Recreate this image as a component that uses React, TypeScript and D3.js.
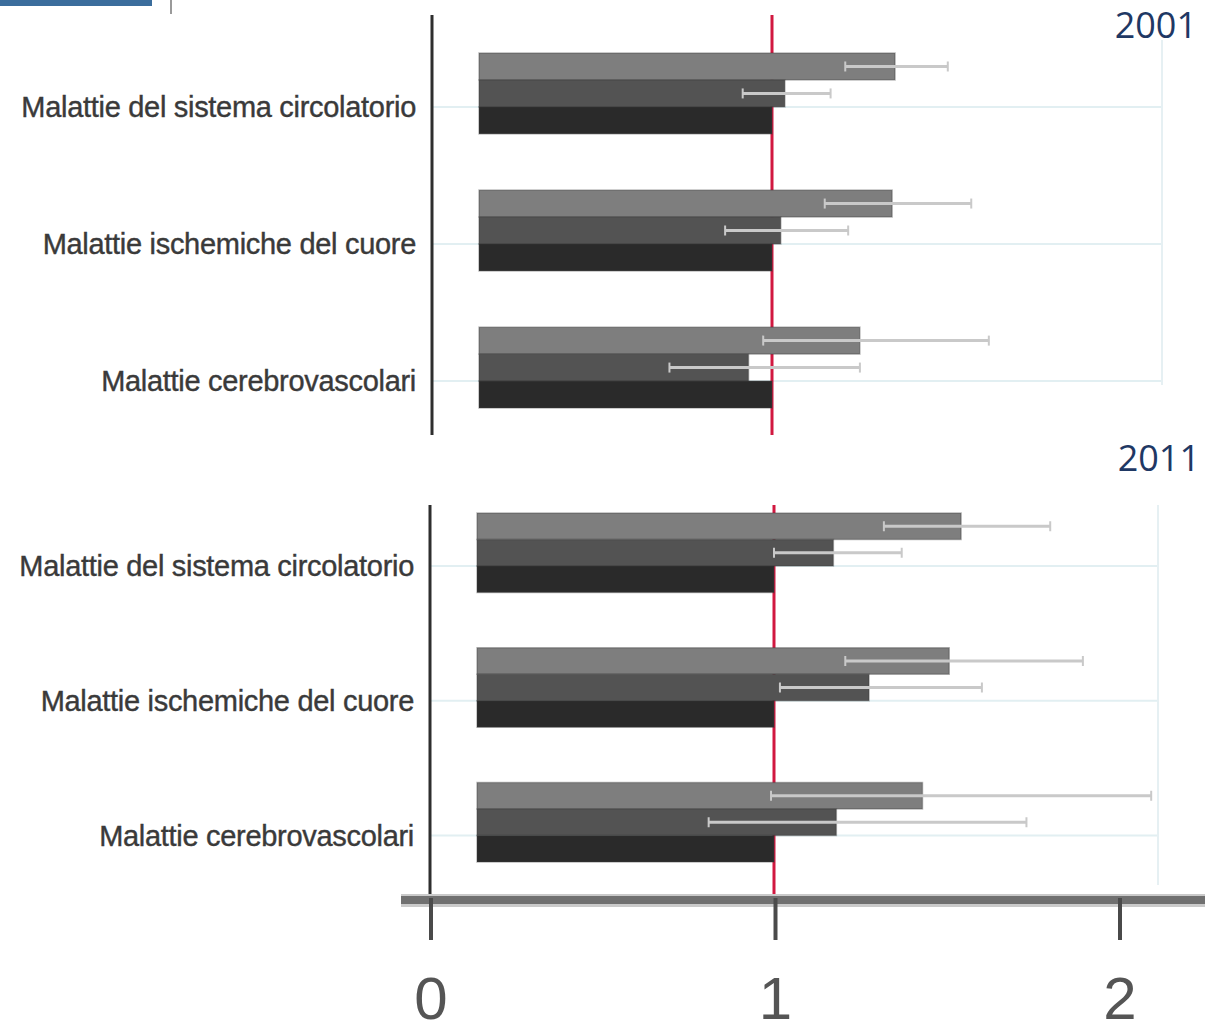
import React from "react";
import * as d3 from "d3";

const categories = [
  "Malattie del sistema circolatorio",
  "Malattie ischemiche del cuore",
  "Malattie cerebrovascolari",
];
const seriesNames = ["serieA", "serieB", "riferimento"];
const years = ["2001", "2011"];

// values per category: [serieA, serieB, riferimento]
const values2001 = [
  [1.42, 1.044, 1.0],
  [1.41, 1.03, 1.0],
  [1.3, 0.92, 1.0],
];
const lower2001 = [
  [1.25, 0.9, null],
  [1.18, 0.84, null],
  [0.97, 0.65, null],
];
const upper2001 = [
  [1.6, 1.2, null],
  [1.68, 1.26, null],
  [1.74, 1.3, null],
];
const values2011 = [
  [1.63, 1.2, 1.0],
  [1.59, 1.32, 1.0],
  [1.5, 1.21, 1.0],
];
const lower2011 = [
  [1.37, 1.0, null],
  [1.24, 1.02, null],
  [0.99, 0.78, null],
];
const upper2011 = [
  [1.93, 1.43, null],
  [2.04, 1.7, null],
  [2.27, 1.85, null],
];
const axisTicks = [0, 1, 2];

const barColors = ["#7e7e7e", "#535353", "#2a2a2a"];

type PanelProps = {
  x0: number;
  x1: number;
  yTop: number;
  yBottom: number;
  axisX: number;
  lineTop: number;
  lineBottom: number;
  gridRight: number;
  gridTop: number;
  gridBottom: number;
  labelX: number;
  values: number[][];
  lower: (number | null)[][];
  upper: (number | null)[][];
};

function Panel(p: PanelProps) {
  const x = d3.scaleLinear().domain([0, 1]).range([p.x0, p.x1]);
  const y = d3
    .scaleBand<string>()
    .domain(categories)
    .range([p.yTop, p.yBottom])
    .paddingInner(0.41)
    .paddingOuter(0);
  const inner = d3
    .scaleBand<string>()
    .domain(seriesNames)
    .range([0, y.bandwidth()])
    .padding(0);
  return (
    <g>
      {categories.map((c) => {
        const gy = (y(c) as number) + (inner("riferimento") as number);
        return (
          <line
            key={"g" + c}
            x1={p.axisX}
            x2={p.gridRight}
            y1={gy}
            y2={gy}
            stroke="#e2eff2"
            strokeWidth={2}
          />
        );
      })}
      <line
        x1={p.gridRight}
        x2={p.gridRight}
        y1={p.gridTop}
        y2={p.gridBottom}
        stroke="#e6f0f3"
        strokeWidth={2}
      />
      <line
        x1={x(1)}
        x2={x(1)}
        y1={p.lineTop}
        y2={p.lineBottom}
        stroke="#d11840"
        strokeWidth={3}
      />
      <line
        x1={p.axisX}
        x2={p.axisX}
        y1={p.lineTop}
        y2={p.lineBottom}
        stroke="#2e2e2e"
        strokeWidth={3}
      />
      {categories.map((c, ci) => (
        <g key={c}>
          {seriesNames.map((s, si) => {
            const by = (y(c) as number) + (inner(s) as number);
            const v = p.values[ci][si];
            return (
              <rect
                key={s}
                x={x(0)}
                y={by}
                width={x(v) - x(0)}
                height={inner.bandwidth()}
                fill={barColors[si]}
                stroke="#3a3a3a"
                strokeOpacity={0.35}
                strokeWidth={1.5}
              />
            );
          })}
          {seriesNames.map((s, si) => {
            const lo = p.lower[ci][si];
            const hi = p.upper[ci][si];
            if (lo == null || hi == null) return null;
            const cy = (y(c) as number) + (inner(s) as number) + inner.bandwidth() / 2;
            return (
              <g key={"e" + s} stroke="#c9c9c9">
                <line x1={x(lo)} x2={x(hi)} y1={cy} y2={cy} strokeWidth={3} />
                <line x1={x(lo)} x2={x(lo)} y1={cy - 5} y2={cy + 5} strokeWidth={2} />
                <line x1={x(hi)} x2={x(hi)} y1={cy - 5} y2={cy + 5} strokeWidth={2} />
              </g>
            );
          })}
          <text
            x={p.labelX}
            y={(y(c) as number) + (inner("riferimento") as number)}
            dy="0.35em"
            textAnchor="end"
            fontFamily="Liberation Sans, Arial, sans-serif"
            fontSize={29}
            fill="#3a3a3a"
            stroke="#3a3a3a"
            strokeWidth={0.4}
            letterSpacing={-0.3}
          >
            {c}
          </text>
        </g>
      ))}
    </g>
  );
}

export default function App() {
  const xAxis = d3.scaleLinear().domain([0, 2]).range([431, 1120]);
  return (
    <div style={{ position: "absolute", left: 0, top: 0 }}>
      <svg width={1205} height={1031} style={{ display: "block", background: "#fff" }}>
        <rect x={0} y={0} width={152} height={6} fill="#3b6d9c" />
        <line x1={171} x2={171} y1={0} y2={14} stroke="#9a9a9a" strokeWidth={2} />

        <Panel
          x0={479}
          x1={772}
          yTop={53}
          yBottom={408}
          axisX={432}
          lineTop={15}
          lineBottom={435}
          gridRight={1162}
          gridTop={40}
          gridBottom={385}
          labelX={416}
          values={values2001}
          lower={lower2001}
          upper={upper2001}
        />
        <Panel
          x0={477}
          x1={774}
          yTop={513}
          yBottom={862}
          axisX={430}
          lineTop={505}
          lineBottom={895}
          gridRight={1158}
          gridTop={505}
          gridBottom={885}
          labelX={414}
          values={values2011}
          lower={lower2011}
          upper={upper2011}
        />

        <text x={1197} y={38} textAnchor="end" fontFamily="Open Sans, Liberation Sans, sans-serif" fontSize={36} fill="#1f3864">
          {years[0]}
        </text>
        <text x={1200} y={471} textAnchor="end" fontFamily="Open Sans, Liberation Sans, sans-serif" fontSize={36} fill="#1f3864">
          {years[1]}
        </text>

        <rect x={401} y={894} width={804} height={13} fill="#cacaca" />
        <rect x={401} y={896} width={804} height={8} fill="#707070" />
        {axisTicks.map((t) => (
          <g key={t}>
            <line
              x1={xAxis(t)}
              x2={xAxis(t)}
              y1={898}
              y2={940}
              stroke="#4a4a4a"
              strokeWidth={4}
            />
            <text
              x={xAxis(t)}
              y={1019}
              textAnchor="middle"
              fontFamily="Liberation Sans, Arial, sans-serif"
              fontSize={60}
              fill="#555"
            >
              {t}
            </text>
          </g>
        ))}
      </svg>
    </div>
  );
}
